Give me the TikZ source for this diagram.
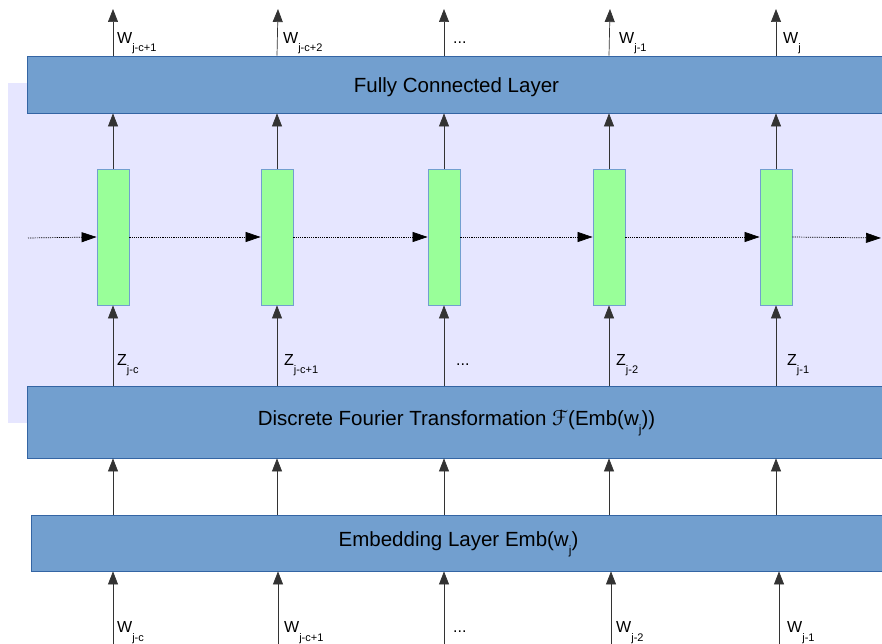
\documentclass[tikz,border=0pt]{standalone}
\usepackage{fontspec}
\setmainfont{Liberation Sans}
\newfontfamily\symfont{DejaVu Sans}
\usetikzlibrary{arrows.meta}

\definecolor{lav}{HTML}{E6E6FF}
\definecolor{layerblue}{HTML}{729FCF}
\definecolor{layeredge}{HTML}{3465A4}
\definecolor{cellgreen}{HTML}{99FF99}
\definecolor{celledge}{HTML}{729FCF}
\definecolor{wire}{HTML}{333333}

% symbol with a low-hanging subscript
\newcommand{\lbl}[2]{{\fontsize{16}{16}\selectfont #1}\raisebox{-8.4pt}{\fontsize{11}{11}\selectfont #2}}
\newcommand{\lowj}{\raisebox{-8pt}{\fontsize{12}{12}\selectfont j}}

\begin{document}
\begin{tikzpicture}[x=1pt,y=-1pt,
  layer/.style={draw=layeredge, fill=layerblue, line width=0.8pt, inner sep=0pt,
    font=\fontsize{20.5}{24}\selectfont, text=black},
  cell/.style={draw=celledge, fill=cellgreen, line width=0.8pt,
    minimum width=32pt, minimum height=136pt, inner sep=0pt},
  arr/.style={draw=wire, line width=0.7pt, -{Triangle[length=13pt,width=10pt]}},
  darr/.style={draw=black, line width=0.7pt, dash pattern=on 1.2pt off 1pt,
    -{Triangle[length=15pt,width=10pt]}},
  lab/.style={anchor=base west, inner sep=0pt, text=black},
  dots/.style={anchor=base west, inner sep=0pt, text=black, font=\fontsize{16}{16}\selectfont}]

\useasboundingbox (0,0) rectangle (882,644);

% recurrent region
\fill[lav] (8,83) rectangle (886,423);

% layers
\node[layer, minimum width=859pt, minimum height=57pt, text height=16.4pt, text depth=0pt]
  (fc) at (456.5,84.5) {Fully Connected Layer};
\node[layer, minimum width=859pt, minimum height=72pt, text height=15pt, text depth=9pt]
  (dft) at (456.5,422) {Discrete Fourier Transformation {\symfont ℱ}(Emb(w\lowj))};
\node[layer, minimum width=855pt, minimum height=56pt, text height=15pt, text depth=7.6pt]
  (emb) at (458.5,543) {Embedding Layer Emb(w\lowj)};

% recurrent cells
\node[cell] (g1) at (113,237) {};
\node[cell] (g2) at (277,237) {};
\node[cell] (g3) at (444,237) {};
\node[cell] (g4) at (609,237) {};
\node[cell] (g5) at (776,237) {};

% free ends of the connectors
\coordinate (t1) at (113,9);
\coordinate (t2) at (278,9);
\coordinate (t3) at (444,9);
\coordinate (t4) at (610,9);
\coordinate (t5) at (776,9);
\coordinate (b1) at (113,650);
\coordinate (b2) at (278,650);
\coordinate (b3) at (444,650);
\coordinate (b4) at (611,650);
\coordinate (b5) at (779,650);
\coordinate (rin) at (28,238);
\coordinate (rout) at (881,238);

% vertical data flow
\foreach \i in {1,...,5} {
  \draw[arr] (g\i |- fc.north) -- (t\i);
  \draw[arr] (g\i.north) -- (g\i |- fc.south);
  \draw[arr] (g\i |- dft.north) -- (g\i.south);
  \draw[arr] (g\i |- emb.north) -- (g\i |- dft.south);
  \draw[arr] (b\i) -- (b\i |- emb.south);
}

% recurrence
\draw[darr] (rin) -- (g1.west);
\draw[darr] (g1.east) -- (g2.west);
\draw[darr] (g2.east) -- (g3.west);
\draw[darr] (g3.east) -- (g4.west);
\draw[darr] (g4.east) -- (g5.west);
\draw[darr] (g5.east) -- (rout);

% output words
\node[lab] (ow1) at (117,43.3) {\lbl{W}{j-c+1}};
\node[lab] (ow2) at (283,43.3) {\lbl{W}{j-c+2}};
\node[dots] (ow3) at (453,43.3) {...};
\node[lab] (ow4) at (619,43.3) {\lbl{W}{j-1}};
\node[lab] (ow5) at (783,43.3) {\lbl{W}{j}};

% transformed inputs
\node[lab] (z1) at (117,365) {\lbl{Z}{j-c}};
\node[lab] (z2) at (284,365) {\lbl{Z}{j-c+1}};
\node[dots] (z3) at (456,365) {...};
\node[lab] (z4) at (616,365) {\lbl{Z}{j-2}};
\node[lab] (z5) at (787,365) {\lbl{Z}{j-1}};

% input words
\node[lab] (iw1) at (117,632.7) {\lbl{W}{j-c}};
\node[lab] (iw2) at (284,632.7) {\lbl{W}{j-c+1}};
\node[dots] (iw3) at (453,632.7) {...};
\node[lab] (iw4) at (616,632.7) {\lbl{W}{j-2}};
\node[lab] (iw5) at (787,632.7) {\lbl{W}{j-1}};
\end{tikzpicture}
\end{document}
